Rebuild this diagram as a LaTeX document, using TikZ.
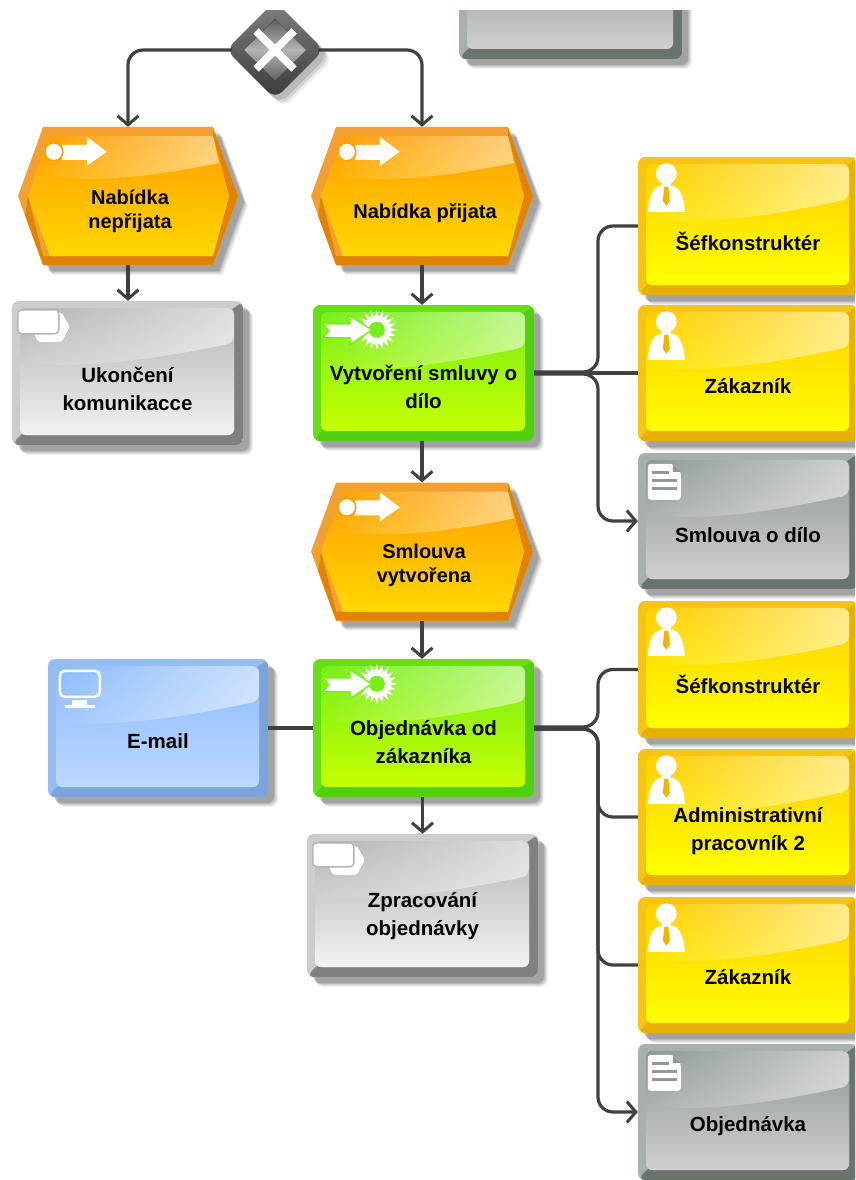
\documentclass[tikz,border=0pt]{standalone}
\usepackage{fontspec}
\setmainfont{Liberation Sans}
\usetikzlibrary{arrows.meta,calc,fadings,shapes.geometric,shapes.symbols}
\definecolor{conncol}{HTML}{404040}
\definecolor{yedge}{HTML}{F6C414}
\definecolor{ydark}{HTML}{E8B000}
\definecolor{ytop}{HTML}{FFCE00}
\definecolor{ybot}{HTML}{FFFF00}
\definecolor{gedge}{HTML}{66E014}
\definecolor{gdark}{HTML}{50CE10}
\definecolor{gtop}{HTML}{78EE18}
\definecolor{gbot}{HTML}{C6FF00}
\definecolor{bedge}{HTML}{96BCF0}
\definecolor{bdark}{HTML}{7AA4DC}
\definecolor{btop}{HTML}{8CBCFC}
\definecolor{bbot}{HTML}{BCD8FE}
\definecolor{dedge}{HTML}{A8B0AC}
\definecolor{ddark}{HTML}{68746C}
\definecolor{dtop}{HTML}{8E9A92}
\definecolor{dbot}{HTML}{CFCFCF}
\definecolor{pedge}{HTML}{CCCCCC}
\definecolor{pdark}{HTML}{808080}
\definecolor{ptop}{HTML}{B4B4B4}
\definecolor{pbot}{HTML}{F2F2F2}
\definecolor{oedge}{HTML}{F4A030}
\definecolor{odark}{HTML}{E08400}
\definecolor{otop}{HTML}{FF9E00}
\definecolor{obot}{HTML}{FFD800}
\definecolor{gatetop}{HTML}{808080}
\definecolor{gatebot}{HTML}{3A3A3A}
\definecolor{gatein}{HTML}{5E5E5E}
\definecolor{gatemid}{HTML}{B4B4B4}
\definecolor{tiecol}{HTML}{F2B400}
\definecolor{doclinecol}{HTML}{8F9A94}
\tikzset{
  softshadow/.style={
    preaction={fill=black,opacity=.05,transform canvas={xshift=10pt,yshift=-10pt}},
    preaction={fill=black,opacity=.07,transform canvas={xshift=9pt,yshift=-9pt}},
    preaction={fill=black,opacity=.08,transform canvas={xshift=8pt,yshift=-8pt}},
    preaction={fill=black,opacity=.10,transform canvas={xshift=7pt,yshift=-7pt}},
    preaction={fill=black,opacity=.12,transform canvas={xshift=6pt,yshift=-6pt}}},
  glossbox/.style n args={4}{rectangle,rounded corners=7,inner sep=0pt,fill=#1,softshadow,
    path picture={
      \coordinate (pnw) at (path picture bounding box.north west);
      \coordinate (pne) at (path picture bounding box.north east);
      \coordinate (pse) at (path picture bounding box.south east);
      \coordinate (psw) at (path picture bounding box.south west);
      \fill[#2] (pne) -- (pse) -- (psw) -- ($(psw)+(9,-11)$) -- ($(pne)+(-10,8)$) -- cycle;
      \fill[rounded corners=6,top color=#3,bottom color=#4] ($(pnw)+(8,7)$) rectangle ($(pse)+(-9,-10)$);
      \fill[white,opacity=.55,path fading=west]
        ($(pnw)+(8,7)$) -- ($(pne)+(-9,7)$) -- ($(pne)+(-9,42)$)
        .. controls ($(pnw)!.62!(pne)+(0,58)$) and ($(pnw)!.4!(pne)+(0,64)$) .. ($(pnw)!.2!(pne)+(0,64)$)
        -- ($(pnw)+(8,62)$) -- cycle;
    }},
  glosshex/.style n args={4}{signal,signal to=east and west,signal pointer angle=140,inner sep=0pt,fill=#1,softshadow,
    path picture={
      \coordinate (pnw) at (path picture bounding box.north west);
      \coordinate (pne) at (path picture bounding box.north east);
      \coordinate (pse) at (path picture bounding box.south east);
      \coordinate (psw) at (path picture bounding box.south west);
      \coordinate (pw) at (path picture bounding box.west);
      \coordinate (pe) at (path picture bounding box.east);
      \fill[#2] (pe) -- ($(pne)+(-25,0)$) -- ($(pne)+(-25,9)$) -- ($(pe)+(-9,0)$) -- ($(pse)+(-25,-9)$) -- ($(psw)+(25,-9)$) -- ($(pw)+(10,0)$) -- (psw) -- (pse) -- cycle;
      \fill[top color=#3,bottom color=#4] ($(pw)+(10,0)$) -- ($(pnw)+(32,9)$) -- ($(pne)+(-25,9)$) -- ($(pe)+(-9,0)$) -- ($(pse)+(-25,-9)$) -- ($(psw)+(32,-9)$) -- cycle;
      \fill[white,opacity=.5,path fading=west]
        ($(pnw)+(32,9)$) -- ($(pne)+(-25,9)$) -- ($(pne)+(-19,36)$)
        .. controls ($(pnw)!.68!(pne)+(0,46)$) and ($(pnw)!.5!(pne)+(0,52)$) .. ($(pnw)!.3!(pne)+(0,52)$)
        -- ($(pnw)+(19,50)$) -- cycle;
    }},
  yellowbox/.style={glossbox={yedge}{ydark}{ytop}{ybot}},
  greenbox/.style={glossbox={gedge}{gdark}{gtop}{gbot}},
  bluebox/.style={glossbox={bedge}{bdark}{btop}{bbot}},
  docbox/.style={glossbox={dedge}{ddark}{dtop}{dbot}},
  procbox/.style={glossbox={pedge}{pdark}{ptop}{pbot}},
  eventhex/.style={glosshex={oedge}{odark}{otop}{obot}},
  boxlabel/.style={font=\bfseries\fontsize{20.5}{28}\selectfont,align=center,inner sep=0pt,text=black},
  hexlabel/.style={font=\bfseries\fontsize{20}{24}\selectfont,align=center,inner sep=0pt,text=black},
  conn/.style={draw=conncol,line width=3.2pt,rounded corners=15pt},
  flow/.style={conn,-{Straight Barb[length=9pt,width=21pt,line width=3pt]}},
  iconfill/.style={fill=white,draw=none}
}
\newcommand\personicon[1]{\begin{scope}[shift={(#1.north west)}]
  \fill[iconfill] (28.5,17) circle (10.5);
  \fill[iconfill] (24,24) rectangle (33,32);
  \fill[iconfill] (10,55) .. controls (11,40) and (15,31) .. (22,29) -- (35,29) .. controls (42,31) and (46,40) .. (47,55) -- cycle;
  \fill[tiecol] (26.5,30) -- (30.5,30) -- (32,44) -- (28.5,49) -- (25,44) -- cycle;
\end{scope}}
\newcommand\docicon[1]{\begin{scope}[shift={(#1.north west)}]
  \fill[iconfill,rounded corners=3] (10,11) -- (35,11) -- (43,19) -- (43,47) -- (10,47) -- cycle;
  \draw[doclinecol,line width=2.8pt] (14,20) -- (31,20) (14,28) -- (39,28) (14,36) -- (39,36);
  \fill[doclinecol] (35,11) -- (35,19) -- (43,19) -- cycle;
\end{scope}}
\newcommand\monitoricon[1]{\begin{scope}[shift={(#1.north west)}]
  \draw[white,line width=2.6pt,rounded corners=5] (12,12) rectangle (52,38);
  \fill[iconfill] (24,41) rectangle (39,46);
  \fill[iconfill] (17,46) rectangle (47,49);
\end{scope}}
\newcommand\stackicon[1]{\begin{scope}[shift={(#1.north west)}]
  \fill[iconfill,rounded corners=2] (40,12) -- (50,12) -- (58,26) -- (50,41) -- (26,41) -- (22,32) -- cycle;
  \fill[iconfill,draw=ptop,line width=1.4pt,rounded corners=4] (6,9) rectangle (47,33);
\end{scope}}
\newcommand\eventicon[1]{\begin{scope}[shift={(#1.west |- #1.north)}]
  \fill[iconfill] (44,18) -- (69,18) -- (69,10) -- (89,25) -- (69,39) -- (69,33) -- (44,33) -- cycle;
  \fill[white,draw=otop,line width=1.6pt] (36,25) circle (9);
\end{scope}}
\newcommand\funcicon[1]{\begin{scope}[shift={(#1.north west)}]
  \foreach \a in {0,18,...,342} {\fill[white] ($(64,25)+(\a:20)$) -- ($(64,25)+(\a+9:13)$) -- ($(64,25)+(\a-9:13)$) -- cycle;}
  \fill[white] (64,25) circle (14);
  \fill[gtop] (64,25) circle (8);
  \fill[iconfill,draw=gtop,line width=1.4pt] (10,19) -- (37,19) -- (37,11) -- (59,25) -- (37,40) -- (37,33) -- (10,33) -- (16,26) -- cycle;
\end{scope}}
\begin{document}
\begin{tikzpicture}[x=1pt,y=-1pt]
\useasboundingbox (0,0) rectangle (855,1180);
\clip (0,11) rectangle (855,1180);
% top box
\node[docbox,minimum width=223pt,minimum height=120pt] (top) at (570.5,-1) {};
% gateway
\node[diamond,aspect=1,inner sep=0pt,minimum width=98pt,minimum height=98pt,rounded corners=10,
  top color=gatetop,bottom color=gatebot,
  preaction={fill=black,opacity=.08,transform canvas={xshift=9pt,yshift=-9pt}},
  preaction={fill=black,opacity=.10,transform canvas={xshift=7pt,yshift=-7pt}},
  preaction={fill=black,opacity=.12,transform canvas={xshift=5pt,yshift=-5pt}}] (gate) at (275,50) {};
\fill[top color=gatein,bottom color=gatein,middle color=gatemid] (gate.center) ++(-31,0) -- ++(31,-31) -- ++(31,31) -- ++(-31,31) -- cycle;
\draw[white,line width=7.5pt] ($(gate.center)+(-19,-19)$) -- ($(gate.center)+(19,19)$) ($(gate.center)+(-19,19)$) -- ($(gate.center)+(19,-19)$);
% events
\node[eventhex,minimum width=220pt,minimum height=138pt] (h1) at (128,196) {};
\node[eventhex,minimum width=222pt,minimum height=138pt] (h2) at (422,196) {};
\node[eventhex,minimum width=222pt,minimum height=138pt] (h3) at (422,551.5) {};
% functions
\node[greenbox,minimum width=221pt,minimum height=136pt] (f1) at (423.5,373) {};
\node[greenbox,minimum width=221pt,minimum height=138pt] (f2) at (423.5,728) {};
% grey processes
\node[procbox,minimum width=231pt,minimum height=144pt] (p1) at (127.5,373) {};
\node[procbox,minimum width=231pt,minimum height=143pt] (p2) at (422.5,905.5) {};
% system
\node[bluebox,minimum width=220pt,minimum height=138pt] (mail) at (158,728) {};
% right column
\node[yellowbox,minimum width=220pt,minimum height=138pt] (y1) at (748,226) {};
\node[yellowbox,minimum width=220pt,minimum height=136pt] (y2) at (748,373) {};
\node[docbox,minimum width=220pt,minimum height=136pt] (d1) at (748,521) {};
\node[yellowbox,minimum width=220pt,minimum height=137pt] (y3) at (748,669.5) {};
\node[yellowbox,minimum width=220pt,minimum height=136pt] (y4) at (748,817) {};
\node[yellowbox,minimum width=220pt,minimum height=136pt] (y5) at (748,965) {};
\node[docbox,minimum width=220pt,minimum height=136pt] (d2) at (748,1112) {};
% icons
\eventicon{h1}\eventicon{h2}\eventicon{h3}
\funcicon{f1}\funcicon{f2}
\stackicon{p1}\stackicon{p2}
\monitoricon{mail}
\personicon{y1}\personicon{y2}\personicon{y3}\personicon{y4}\personicon{y5}
\docicon{d1}\docicon{d2}
% labels
\node[hexlabel] (th1) at ($(h1.center)+(2,15)$) {Nabídka\\nepřijata};
\node[hexlabel] (th2) at ($(h2.center)+(3,17)$) {Nabídka přijata};
\node[hexlabel] (th3) at ($(h3.center)+(2,14)$) {Smlouva\\vytvořena};
\node[boxlabel] (tf1) at ($(f1.center)+(0,14)$) {Vytvoření smluvy o\\dílo};
\node[boxlabel] (tf2) at ($(f2.center)+(0,14)$) {Objednávka od\\zákazníka};
\node[boxlabel] (tp1) at ($(p1.center)+(0,16)$) {Ukončení\\komunikacce};
\node[boxlabel] (tp2) at ($(p2.center)+(0,11)$) {Zpracování\\objednávky};
\node[boxlabel] (tmail) at ($(mail.center)+(0,13)$) {E-mail};
\node[boxlabel] (ty1) at ($(y1.center)+(0,15)$) {Šéfkonstruktér};
\node[boxlabel] (ty2) at ($(y2.center)+(0,13)$) {Zákazník};
\node[boxlabel] (td1) at ($(d1.center)+(0,14)$) {Smlouva o dílo};
\node[boxlabel] (ty3) at ($(y3.center)+(0,15)$) {Šéfkonstruktér};
\node[boxlabel] (ty4) at ($(y4.center)+(0,14)$) {Administrativní\\pracovník 2};
\node[boxlabel] (ty5) at ($(y5.center)+(0,12)$) {Zákazník};
\node[boxlabel] (td2) at ($(d2.center)+(0,14)$) {Objednávka};
% connectors
\draw[flow] ($(gate.west)+(6,0)$) -| (h1.north);
\draw[flow] ($(gate.east)+(-6,0)$) -| (h2.north);
\draw[flow] (h1.south) -- (p1.north -| h1.south);
\draw[flow] (h2.south) -- (f1.north -| h2.south);
\draw[flow] (f1.south -| h3.north) -- (h3.north);
\draw[flow] (h3.south) -- (f2.north -| h3.south);
\draw[flow] (f2.south -| p2.north) -- (p2.north);
\draw[conn] (mail.east) -- (f2.west);
\coordinate (b1) at (598,373);
\coordinate (b2) at (598,728);
\draw[conn] ($(f1.east)+(0,-1)$) -- ($(b1)+(0,-1)$) -- (b1 |- y1.west) -- (y1.west);
\draw[conn] (f1.east) -- (y2.west);
\draw[flow] ($(f1.east)+(0,1)$) -- ($(b1)+(0,1)$) -- (b1 |- d1.west) -- (d1.west);
\draw[conn] ($(f2.east)+(0,-1)$) -- ($(b2)+(0,-1)$) -- (b2 |- y3.west) -- (y3.west);
\draw[conn] ($(f2.east)+(0,1)$) -- ($(b2)+(0,1)$) -- (b2 |- y4.west) -- (y4.west);
\draw[conn] ($(f2.east)+(0,1)$) -- ($(b2)+(0,1)$) -- (b2 |- y5.west) -- (y5.west);
\draw[flow] ($(f2.east)+(0,1)$) -- ($(b2)+(0,1)$) -- (b2 |- d2.west) -- (d2.west);
\end{tikzpicture}
\end{document}
